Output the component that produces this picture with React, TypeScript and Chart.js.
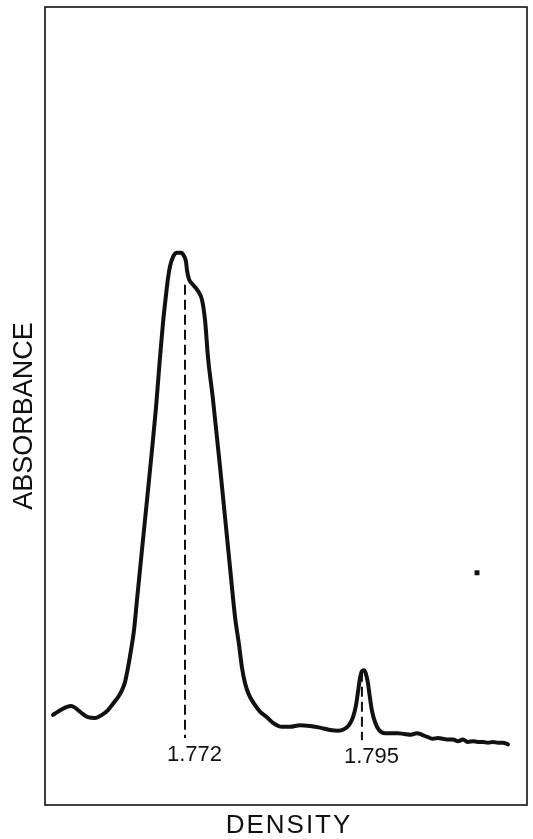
import React, { useEffect, useRef } from "react";
import { Chart, registerables } from "chart.js";

Chart.register(...registerables);

// Density (g/ml) along the gradient
const densityValues = [
  1.75484, 1.75549, 1.75601, 1.75666, 1.75718, 1.7577, 1.75822, 1.75874, 1.75939, 1.7603,
  1.76121, 1.76199, 1.76264, 1.76329, 1.76381, 1.7642, 1.76459, 1.76498, 1.76537, 1.76576,
  1.76641, 1.76706, 1.76771, 1.76823, 1.76875, 1.76914, 1.76953, 1.76979, 1.77005, 1.77044,
  1.77096, 1.77148, 1.77187, 1.77213, 1.77226, 1.77252, 1.77304, 1.77369, 1.77421, 1.7746,
  1.77499, 1.77564, 1.77655, 1.7772, 1.77785, 1.7785, 1.77902, 1.77941, 1.7798, 1.78032,
  1.78097, 1.78175, 1.78266, 1.78344, 1.78461, 1.78565, 1.78695, 1.78825, 1.78955, 1.79085,
  1.79189, 1.79267, 1.79332, 1.79384, 1.79423, 1.79449, 1.79475, 1.79501, 1.79527, 1.79553,
  1.79579, 1.79605, 1.79631, 1.7967, 1.79722, 1.798, 1.79891, 1.79969, 1.80047, 1.80138,
  1.80216, 1.80281, 1.80359, 1.80424, 1.80489, 1.80554, 1.80619, 1.80684, 1.80749, 1.80814,
  1.80879, 1.80944, 1.81009, 1.81074, 1.81139, 1.81204, 1.81269, 1.81334, 1.81399,
];

// Absorbance (arbitrary units)
const absorbanceValues = [
  11.3, 11.7, 12.0, 12.3, 12.4, 12.2, 11.8, 11.4, 11.0, 10.9,
  11.3, 11.9, 12.7, 13.5, 14.4, 15.4, 17.2, 19.4, 21.9, 25.7,
  32.0, 38.2, 44.5, 49.8, 56.1, 60.4, 63.9, 66.0, 67.5, 68.7,
  69.2, 69.2, 68.8, 68.1, 67.0, 65.9, 65.2, 64.4, 63.3, 60.8,
  56.1, 50.8, 42.4, 36.1, 29.8, 23.6, 20.1, 17.2, 15.3, 13.8,
  12.7, 11.7, 11.0, 10.3, 9.8, 9.8, 10.0, 9.9, 9.7, 9.4,
  9.3, 9.5, 10.0, 11.0, 12.5, 14.2, 15.9, 16.8, 16.9, 16.4,
  15.2, 13.4, 11.8, 10.4, 9.4, 9.0, 9.0, 9.0, 8.9, 8.8,
  9.0, 8.8, 8.5, 8.3, 8.4, 8.3, 8.2, 8.2, 8.0, 8.2,
  7.9, 8.0, 7.9, 7.9, 7.8, 7.9, 7.8, 7.8, 7.6,
];

// Marked band densities
const peakDensities = [1.772, 1.795];
const peakLabels = ["1.772", "1.795"];
const peakLineTops = [65.2, 16.7];
const peakLineBottoms = [8.4, 8.1];

// Stray speck on the original trace
const speckDensity = [1.80996];
const speckAbsorbance = [29.1];

const xMin = 1.7538;
const xMax = 1.81646;
const yMin = 0;
const yMax = 100;

const xTitle = "DENSITY";
const yTitle = "ABSORBANCE";

const FONT = "'Liberation Sans', Arial, sans-serif";
const INK = "#111111";

export default function App() {
  const canvasRef = useRef<HTMLCanvasElement | null>(null);

  useEffect(() => {
    const canvas = canvasRef.current;
    if (!canvas) return;

    const curve = densityValues.map((d, i) => ({ x: d, y: absorbanceValues[i] }));
    const dashSets = peakDensities.map((d, i) => ({
      data: [
        { x: d, y: peakLineTops[i] },
        { x: d, y: peakLineBottoms[i] },
      ],
      borderColor: INK,
      borderWidth: 2,
      borderDash: [10, 5],
      pointRadius: 0,
      fill: false,
      tension: 0,
    }));

    const framePlugin = {
      id: "framePlugin",
      afterDraw(chart: any) {
        const { ctx, chartArea, scales } = chart;
        ctx.save();
        ctx.strokeStyle = INK;
        ctx.lineWidth = 1.6;
        ctx.strokeRect(chartArea.left, chartArea.top, chartArea.right - chartArea.left, chartArea.bottom - chartArea.top);

        ctx.fillStyle = INK;
        ctx.font = `22px ${FONT}`;
        ctx.textBaseline = "middle";
        ctx.textAlign = "left";
        peakDensities.forEach((d, i) => {
          const px = scales.x.getPixelForValue(d);
          const py = scales.y.getPixelForValue(peakLineBottoms[i]) + 17;
          ctx.fillText(peakLabels[i], px - 18, py);
        });

        ctx.font = `26px ${FONT}`;
        ctx.textAlign = "center";
        ctx.textBaseline = "middle";
        (ctx as any).letterSpacing = "2px";
        ctx.fillText(xTitle, (chartArea.left + chartArea.right) / 2 + 3, chartArea.bottom + 21);
        (ctx as any).letterSpacing = "0px";

        ctx.translate(25, 416);
        ctx.rotate(-Math.PI / 2);
        ctx.font = `27px ${FONT}`;
        ctx.fillText(yTitle, 0, 0);
        ctx.restore();
      },
    };

    const chart = new Chart(canvas, {
      type: "line",
      data: {
        datasets: [
          {
            data: curve,
            borderColor: INK,
            borderWidth: 4,
            pointRadius: 0,
            fill: false,
            cubicInterpolationMode: "monotone",
            borderJoinStyle: "round",
            borderCapStyle: "round",
          } as any,
          ...(dashSets as any[]),
          {
            data: speckDensity.map((d, i) => ({ x: d, y: speckAbsorbance[i] })),
            showLine: false,
            pointStyle: "rect",
            pointRadius: 3.5,
            pointBackgroundColor: INK,
            pointBorderColor: INK,
            pointBorderWidth: 0,
          } as any,
        ],
      },
      options: {
        animation: false,
        responsive: false,
        maintainAspectRatio: false,
        layout: { padding: { left: 45, top: 7, right: 6, bottom: 34 } },
        plugins: {
          legend: { display: false },
          tooltip: { enabled: false },
          title: { display: false },
        },
        scales: {
          x: { type: "linear", min: xMin, max: xMax, display: false },
          y: { type: "linear", min: yMin, max: yMax, display: false },
        },
      },
      plugins: [framePlugin],
    });

    return () => chart.destroy();
  }, []);

  return (
    <div style={{ position: "fixed", left: 0, top: 0, width: 533, height: 839, background: "#fff" }}>
      <canvas ref={canvasRef} width={533} height={839} style={{ width: 533, height: 839, display: "block" }} />
    </div>
  );
}
